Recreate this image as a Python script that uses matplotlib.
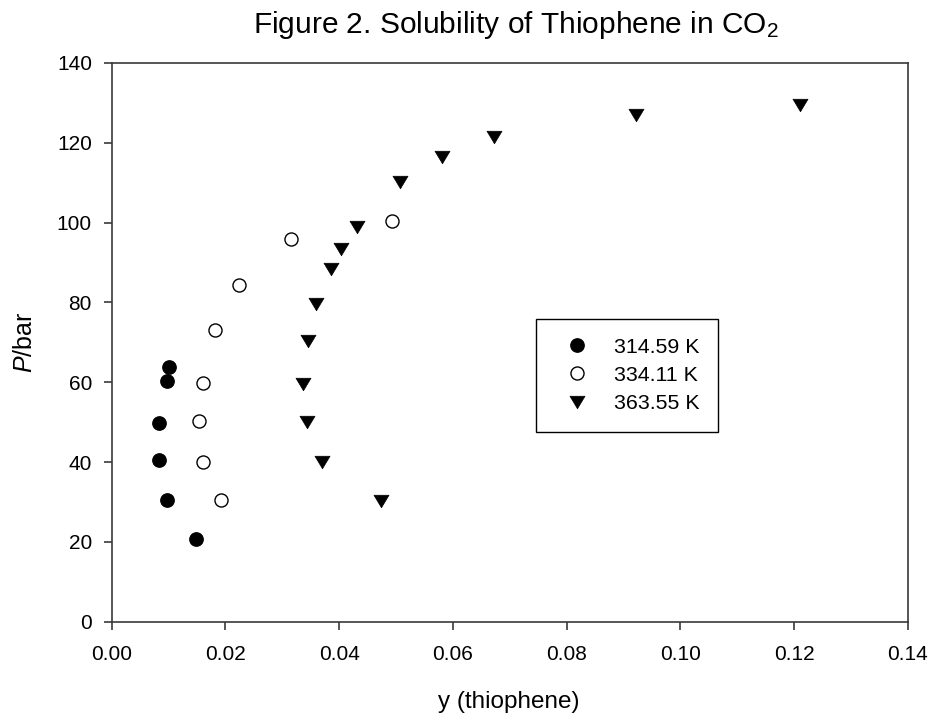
import matplotlib
matplotlib.use("Agg")
import matplotlib.pyplot as plt
from matplotlib.path import Path

plt.rcParams['font.family'] = ['Liberation Sans', 'DejaVu Sans']
plt.rcParams['mathtext.fontset'] = 'custom'
plt.rcParams['mathtext.rm'] = 'Liberation Sans'
plt.rcParams['mathtext.it'] = 'Liberation Sans:italic'
plt.rcParams['mathtext.default'] = 'regular'

# Data
y_314 = [0.0101, 0.0098, 0.0084, 0.0084, 0.0098, 0.0148]
p_314 = [63.9, 60.2, 49.8, 40.6, 30.5, 20.6]

y_334 = [0.0182, 0.0160, 0.0154, 0.0161, 0.0192, 0.0224, 0.0316, 0.0492]
p_334 = [73.0, 59.8, 50.4, 40.0, 30.4, 84.4, 95.8, 100.3]

y_363 = [0.0346, 0.0336, 0.0343, 0.0370, 0.0474, 0.0360, 0.0385, 0.0404,
         0.0431, 0.0507, 0.0580, 0.0673, 0.0922, 0.1210]
p_363 = [70.4, 59.6, 50.0, 39.9, 30.3, 79.6, 88.3, 93.3,
         98.8, 110.1, 116.5, 121.4, 126.9, 129.6]

labels = ['314.59 K', '334.11 K', '363.55 K']
x_ticks = [0.00, 0.02, 0.04, 0.06, 0.08, 0.10, 0.12, 0.14]
y_ticks = [0, 20, 40, 60, 80, 100, 120, 140]

W, H = 933, 717
fig = plt.figure(figsize=(W / 100, H / 100), dpi=100)
L, R, T, B = 111.7, 908, 63, 621.7
ax = fig.add_axes([L / W, 1 - B / H, (R - L) / W, (B - T) / H])
AW, AH = R - L, B - T

tri = Path([(-0.75, 0.625), (0.75, 0.625), (0, -0.625), (-0.75, 0.625)],
           [Path.MOVETO, Path.LINETO, Path.LINETO, Path.CLOSEPOLY])

ax.plot(y_314, p_314, linestyle='none', marker='o', ms=9.6, mfc='black',
        mec='black', mew=1.0, label=labels[0], clip_on=False)
ax.plot(y_334, p_334, linestyle='none', marker='o', ms=9.4, mfc='white',
        mec='black', mew=1.0, label=labels[1], clip_on=False)
ax.plot(y_363, p_363, linestyle='none', marker=tri, ms=10.8, mfc='black',
        mec='black', mew=0.5, label=labels[2], clip_on=False)

ax.set_xlim(0, 0.14)
ax.set_ylim(0, 140)
ax.set_xticks(x_ticks)
ax.set_xticklabels([f"{v:.2f}" for v in x_ticks])
ax.set_yticks(y_ticks)
ax.set_yticklabels([str(v) for v in y_ticks])

axc = '#3a3a3a'
for s in ax.spines.values():
    s.set_color(axc)
    s.set_linewidth(1.2)
ax.tick_params(axis='both', direction='out', length=6, width=1.2, color=axc,
               labelsize=15, labelcolor='black', top=False, right=False)
ax.tick_params(axis='x', pad=10.5)
ax.tick_params(axis='y', pad=8.2)

ax.set_xlabel('y (thiophene)', fontsize=17.5)
ax.xaxis.label.set_va('baseline')
ax.xaxis.set_label_coords((509 - L) / AW, (B - 708.3) / AH)

ax.set_ylabel(r'$\it{P}$/bar', fontsize=18)
ax.yaxis.label.set_va('baseline')
ax.yaxis.set_label_coords((31.7 - L) / AW, 0.5)

ax.set_title('Figure 2. Solubility of Thiophene in CO$_2$', fontsize=21.5,
             x=(515.5 - L) / AW, y=(B - 32.7) / AH, pad=0, va='baseline')

leg = ax.legend(loc='upper left', bbox_to_anchor=(536 / W, 1 - 319 / H),
                bbox_transform=fig.transFigure, fontsize=15.4, frameon=True,
                fancybox=False, shadow=False, borderaxespad=0, borderpad=0.865,
                handlelength=2.07, handletextpad=0.72, labelspacing=0.44,
                markerscale=1.0)
leg.get_frame().set_edgecolor('black')
leg.get_frame().set_linewidth(1.0)
leg.get_frame().set_alpha(None)

fig.savefig('out.png', dpi=100)
